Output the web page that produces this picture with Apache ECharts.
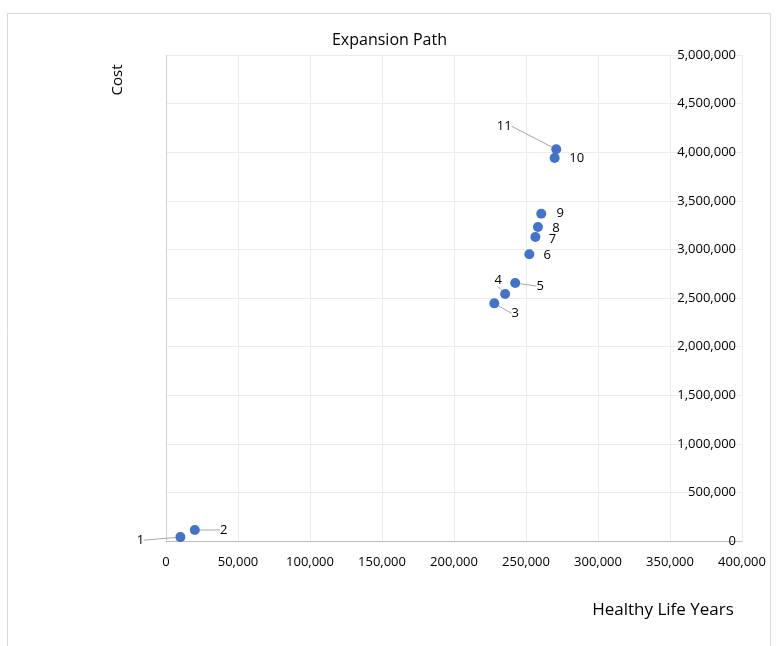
<!DOCTYPE html>
<html>
<head>
<meta charset="utf-8">
<script src="https://cdn.jsdelivr.net/npm/echarts@6/dist/echarts.min.js"></script>
<style>html,body{margin:0;padding:0;background:#fff;}#c{width:779px;height:646px;}</style>
</head>
<body>
<div id="c"></div>
<script>
const pointLabels = ['1','2','3','4','5','6','7','8','9','10','11'];
const healthyLifeYears = [10000, 20000, 228000, 235500, 242500, 252300, 256500, 258300, 260600, 269900, 271000];
const costs = [40000, 113000, 2445000, 2541000, 2654000, 2950000, 3128000, 3230000, 3367000, 3940000, 4030000];
const xTicks = { min: 0, max: 400000, interval: 50000 };
const yTicks = { min: 0, max: 5000000, interval: 500000 };

// label offsets (px) relative to marker centre, and whether a leader line is drawn
const labelOffsets = [[-40,3],[29,0],[21,10],[-7,-14],[25,3],[18,1],[17,2],[18,1],[19,0],[22,0],[-52,-23]];
const leader = [true,true,true,true,true,false,false,false,false,false,true];

const FONT = '"Open Sans", "Noto Sans", sans-serif';
const chart = echarts.init(document.getElementById('c'));
const data = healthyLifeYears.map((x, i) => ({
  value: [x, costs[i]],
  name: pointLabels[i],
  labelLine: { show: leader[i] }
}));

chart.setOption({
  animation: false,
  backgroundColor: '#fff',
  title: {
    text: 'Expansion Path', left: 'center', top: 27,
    textStyle: { fontFamily: FONT, fontSize: 16, fontWeight: 'normal', color: '#000' }
  },
  grid: { left: 166, right: 37, top: 55, bottom: 105, containLabel: false },
  xAxis: {
    type: 'value', min: xTicks.min, max: xTicks.max, interval: xTicks.interval,
    axisLine: { show: true, onZero: false, lineStyle: { color: '#bfbfbf' } },
    axisTick: { show: false },
    axisLabel: { fontFamily: FONT, fontSize: 13, color: '#000', margin: 15,
      formatter: v => v.toLocaleString('en-US') },
    splitLine: { show: true, lineStyle: { color: '#ececec' } }
  },
  yAxis: {
    type: 'value', position: 'right', min: yTicks.min, max: yTicks.max, interval: yTicks.interval,
    axisLine: { show: true, lineStyle: { color: '#d0d0d0' } },
    axisTick: { show: false },
    axisLabel: { inside: true, fontFamily: FONT, fontSize: 13, color: '#000', margin: 6,
      formatter: v => v.toLocaleString('en-US') },
    splitLine: { show: true, lineStyle: { color: '#ececec' } }
  },
  graphic: [
    { type: 'rect', shape: { x: 7.5, y: 13.5, width: 763, height: 650 }, style: { fill: 'none', stroke: '#d9d9d9', lineWidth: 1 }, silent: true },
    { type: 'text', x: 118, y: 80, rotation: Math.PI / 2, style: { text: 'Cost', fontFamily: FONT, fontSize: 15, fill: '#000', textAlign: 'center', textVerticalAlign: 'middle' } },
    { type: 'text', x: 663, y: 610, style: { text: 'Healthy Life Years', fontFamily: FONT, fontSize: 17, fill: '#000', textAlign: 'center', textVerticalAlign: 'middle' } }
  ],
  series: [{
    type: 'scatter',
    data: data,
    symbolSize: 10,
    itemStyle: { color: '#4472C4', opacity: 1 },
    label: {
      show: true, position: 'inside', formatter: p => p.name,
      fontFamily: FONT, fontSize: 13, color: '#000'
    },
    labelLine: { show: false, lineStyle: { color: '#a6a6a6', width: 1 } },
    labelLayout: p => ({ dx: labelOffsets[p.dataIndex][0], dy: labelOffsets[p.dataIndex][1] })
  }]
});
</script>
</body>
</html>
